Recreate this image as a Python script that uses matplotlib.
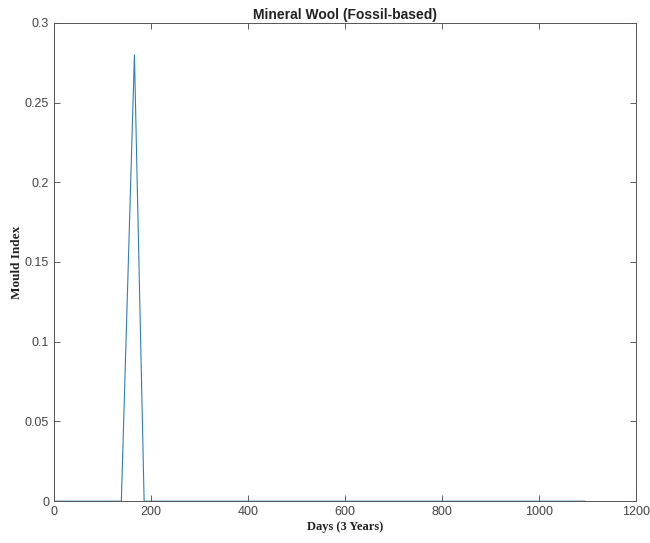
import matplotlib
matplotlib.use("Agg")
import matplotlib.pyplot as plt
import numpy as np

# daily mould index over three years (1095 days)
days = [0, 139, 166, 186, 1095]
mould_index = [0, 0, 0.28, 0, 0]

xticks = [0, 200, 400, 600, 800, 1000, 1200]
yticks = [0, 0.05, 0.1, 0.15, 0.2, 0.25, 0.3]

fig = plt.figure(figsize=(6.5, 5.43), dpi=100)
ax = fig.add_axes([0.083, 0.077, 0.895, 0.881])

ax.plot(days, mould_index, color="#2f7fb8", linewidth=0.8)

ax.set_xlim(0, 1200)
ax.set_ylim(0, 0.3)
ax.set_xticks(xticks)
ax.set_yticks(yticks)
ax.set_xticklabels(["%g" % t for t in xticks])
ax.set_yticklabels(["%g" % t for t in yticks])

for s in ax.spines.values():
    s.set_color("#555555")
    s.set_linewidth(0.7)
ax.tick_params(direction="in", top=True, right=True, length=4, width=0.6,
               colors="#444444", labelsize=9)
for lab in ax.get_xticklabels() + ax.get_yticklabels():
    lab.set_family("Liberation Sans")

ax.set_title("Mineral Wool (Fossil-based)", fontsize=10, fontweight="bold",
             family="Liberation Sans", pad=3, color="#222222")
ax.set_xlabel("Days (3 Years)", fontsize=9, fontweight="bold",
              family="Liberation Serif", labelpad=2, color="#222222")
ax.set_ylabel("Mould Index", fontsize=9.5, fontweight="bold",
              family="Liberation Serif", labelpad=1, color="#222222")

fig.savefig("out.png", dpi=100)
